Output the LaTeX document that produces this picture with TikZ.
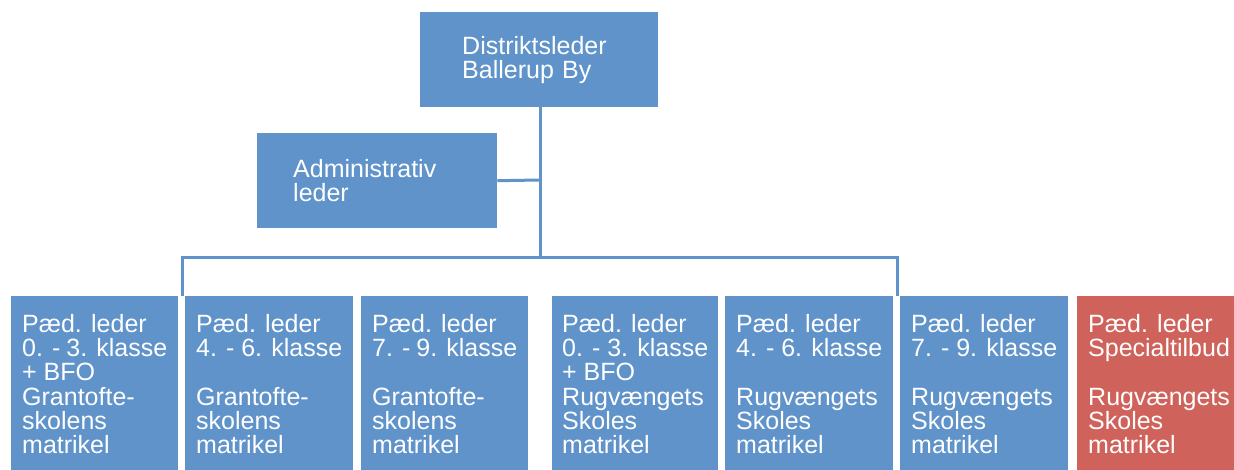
\documentclass[tikz,border=0pt]{standalone}
\usepackage{fontspec}
\setmainfont{Liberation Sans}
\definecolor{orgblue}{HTML}{5F93C9}
\definecolor{orgred}{HTML}{CF625A}
\tikzset{
  orgbox/.style={fill=orgblue, draw=none, text=white, rectangle, inner sep=0pt,
    font=\fontsize{25}{24.3}\selectfont},
  redbox/.style={orgbox, fill=orgred},
  link/.style={draw=orgblue, line width=3pt},
}
\newcommand{\lowbox}[2]{\parbox[c][138pt][t]{#1}{\raggedright #2}}
\begin{document}
\begin{tikzpicture}[x=1pt,y=-1pt]
\useasboundingbox (0,0) rectangle (1234,470);
% top
\node[orgbox, anchor=north west, minimum width=238pt, minimum height=95pt, inner xsep=42pt, text width=154pt, align=left]
  (top) at (420,12) {Distriktsleder\\Ballerup By};
\node[orgbox, anchor=north west, minimum width=240pt, minimum height=95pt, inner xsep=36pt, text width=168pt, align=left]
  (adm) at (257,133) {Administrativ\\leder};
% bottom row
\tikzset{low/.style={orgbox, anchor=north west, minimum height=174pt, inner xsep=11pt, inner ysep=18pt}}
\node[low, minimum width=167pt] (b1) at (11,296) {\lowbox{145pt}{Pæd. leder\\0. - 3. klasse\\+ BFO\\Grantofte-\\skolens\\matrikel}};
\node[low, minimum width=168pt] (b2) at (185,296) {\lowbox{146pt}{Pæd. leder\\4. - 6. klasse\\\mbox{}\\Grantofte-\\skolens\\matrikel}};
\node[low, minimum width=167pt] (b3) at (361,296) {\lowbox{145pt}{Pæd. leder\\7. - 9. klasse\\\mbox{}\\Grantofte-\\skolens\\matrikel}};
\node[low, minimum width=166pt, inner xsep=10pt] (b4) at (552,296) {\lowbox{146pt}{Pæd. leder\\0. - 3. klasse\\+ BFO\\Rugvængets\\Skoles\\matrikel}};
\node[low, minimum width=168pt] (b5) at (725,296) {\lowbox{146pt}{Pæd. leder\\4. - 6. klasse\\\mbox{}\\Rugvængets\\Skoles\\matrikel}};
\node[low, minimum width=168pt] (b6) at (900,296) {\lowbox{146pt}{Pæd. leder\\7. - 9. klasse\\\mbox{}\\Rugvængets\\Skoles\\matrikel}};
\node[low, fill=orgred, minimum width=157pt] (b7) at (1077,296) {\lowbox{135pt}{Pæd. leder\\Specialtilbud\\\mbox{}\\Rugvængets\\Skoles\\matrikel}};
% connectors
\coordinate (hub) at (540,258);
\coordinate (jl) at (182,258);
\coordinate (jr) at (897,258);
\coordinate (admj) at (540,180);
\draw[link] (top.south -| hub) -- (hub);
\draw[link] (adm.east) -- (admj);
\draw[link, line cap=rect] (jl) -- (jr);
\draw[link] (jl) -- (jl |- b1.north);
\draw[link] (jr) -- (jr |- b6.north);
\end{tikzpicture}
\end{document}
